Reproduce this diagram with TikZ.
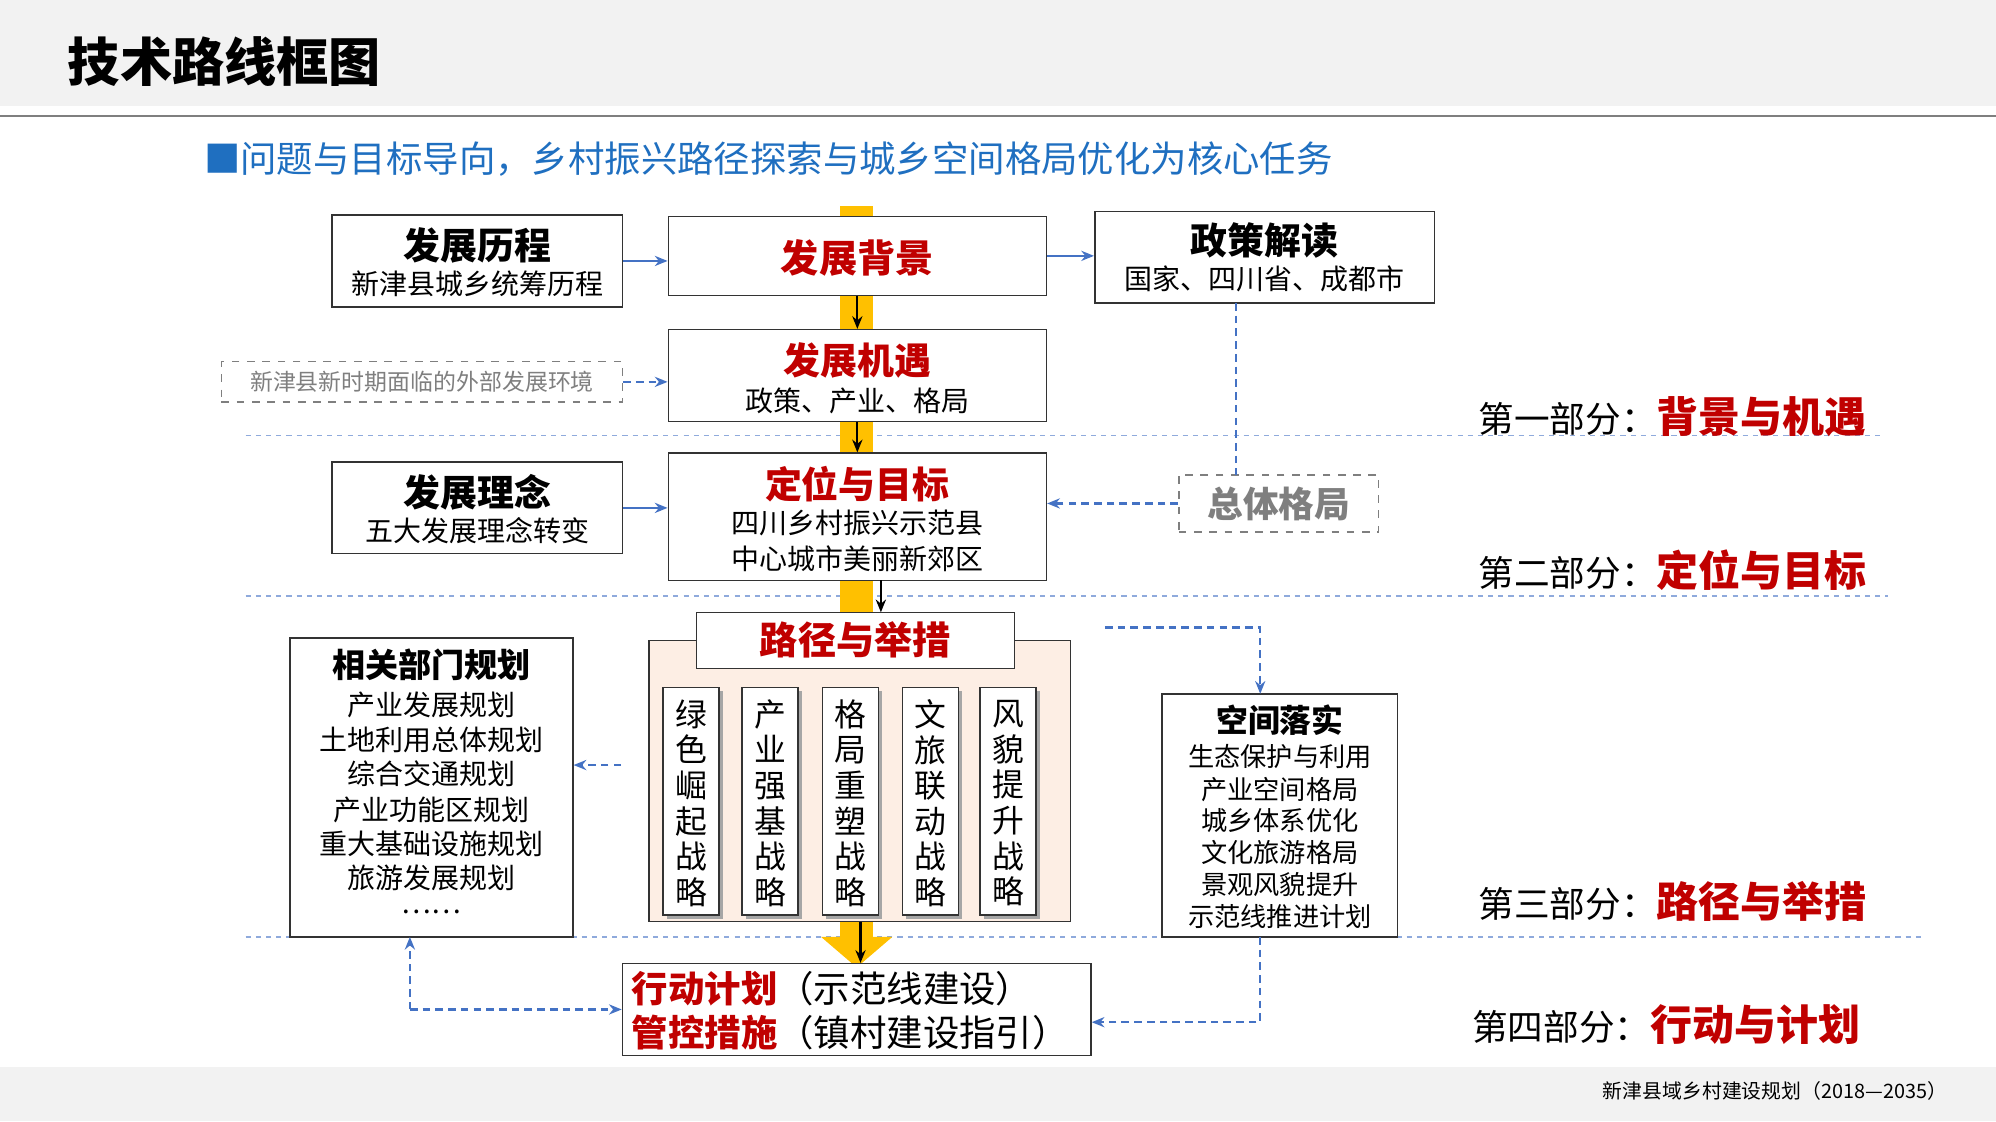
\documentclass[tikz,border=0pt]{standalone}
\usepackage{fontspec}
\setmainfont{Noto Sans CJK SC}
\usetikzlibrary{arrows.meta}
\definecolor{tblue}{HTML}{1F6FC0}
\definecolor{lblue}{HTML}{4472C4}
\definecolor{tred}{HTML}{C00000}
\definecolor{tyel}{HTML}{FFC000}
\definecolor{tgray}{HTML}{F2F2F2}
\definecolor{dgray}{HTML}{7F7F7F}
\definecolor{peach}{HTML}{FDEEE4}
\newcommand{\fsz}[1]{\fontsize{#1pt}{#1pt}\selectfont}
\newcommand{\bx}[6]{\node[#6, minimum width={#4*0.5pt}, minimum height={#5*0.5pt}] (#1) at (#2,#3) {};}
\tikzset{
 box/.style={draw=black!80, line width=0.6pt, fill=white, inner sep=0pt},
 dbox/.style={draw=dgray, dashed, line width=0.6pt, fill=white, inner sep=0pt},
 txt/.style={inner sep=0pt, align=center},
 barr/.style={-{Stealth[length=5pt,width=4pt]}, line width=0.9pt, black},
 blarr/.style={-{Stealth[length=5pt,width=4pt]}, line width=0.9pt, lblue},
 bldash/.style={line width=0.8pt, lblue, dash pattern=on 3pt off 2pt},
 sep/.style={line width=0.6pt, lblue!60, dash pattern=on 2pt off 2pt},
}
\begin{document}
\begin{tikzpicture}[x=0.5pt,y=-0.5pt]
\useasboundingbox (0,0) rectangle (1568,881);
\fill[tgray] (0,0) rectangle (1568,83);
\draw[line width=1pt, dgray] (0,91) -- (1568,91);
\fill[tgray] (0,838) rectangle (1568,881);
\node[txt, anchor=west] (title) at (53,48) {\fsz{20.5}\bfseries 技术路线框图};
\node[txt, anchor=east] (foot) at (1530,857) {\fsz{7.8}新津县域乡村建设规划（2018—2035）};
\node[txt, anchor=west, text=tblue] (sub) at (160,125) {\fsz{14.3}■问题与目标导向，乡村振兴路径探索与城乡空间格局优化为核心任务};
% separators
\draw[sep] (193,342) -- (1480,342);
\draw[sep] (193,468) -- (1483,468);
\draw[sep] (193,736) -- (1510,736);
% section labels
\node[txt, anchor=east] (s1) at (1467,327) {\fsz{14}第一部分：\textcolor{tred}{\fsz{16.5}\bfseries 背景与机遇}};
\node[txt, anchor=east] (s2) at (1467,448) {\fsz{14}第二部分：\textcolor{tred}{\fsz{16.5}\bfseries 定位与目标}};
\node[txt, anchor=east] (s3) at (1467,708) {\fsz{14}第三部分：\textcolor{tred}{\fsz{16.5}\bfseries 路径与举措}};
\node[txt, anchor=east] (s4) at (1462,805) {\fsz{14}第四部分：\textcolor{tred}{\fsz{16.5}\bfseries 行动与计划}};
% yellow bar
\fill[tyel] (660,162) rectangle (686,738);
\fill[tyel] (645,736) -- (701,736) -- (673,760) -- cycle;
% boxes
\bx{A}{375}{205}{228}{72}{box}
\node[txt] (At) at (375,193) {\fsz{14.5}\bfseries 发展历程};
\node[txt] (As) at (375,223) {\fsz{11}新津县城乡统筹历程};
\bx{B}{673.5}{201}{297}{62}{box}
\node[txt, text=tred] (Bt) at (673.5,203) {\fsz{15}\bfseries 发展背景};
\bx{C}{993.5}{202}{267}{72}{box}
\node[txt] (Ct) at (993.5,189) {\fsz{14.5}\bfseries 政策解读};
\node[txt] (Cs) at (993.5,219) {\fsz{11}国家、四川省、成都市};
\bx{D}{673.5}{295}{297}{72}{box}
\node[txt, text=tred] (Dt) at (673.5,283) {\fsz{14.5}\bfseries 发展机遇};
\node[txt] (Ds) at (673.5,315) {\fsz{11}政策、产业、格局};
\bx{E}{331.5}{300}{315}{32}{dbox}
\node[txt, text=dgray] (Et) at (331.5,300) {\fsz{9}新津县新时期面临的外部发展环境};
\bx{F}{375}{399}{228}{72}{box}
\node[txt] (Ft) at (375,387) {\fsz{14.5}\bfseries 发展理念};
\node[txt] (Fs) at (375,417) {\fsz{11}五大发展理念转变};
\bx{G}{673.5}{406}{297}{100}{box}
\node[txt, text=tred] (Gt) at (673.5,380) {\fsz{14.5}\bfseries 定位与目标};
\node[txt] (Gs1) at (673.5,411) {\fsz{11}四川乡村振兴示范县};
\node[txt] (Gs2) at (673.5,439) {\fsz{11}中心城市美丽新郊区};
\bx{H}{1004.5}{395.5}{157}{45}{dbox}
\node[txt, text=dgray] (Ht) at (1004.5,396) {\fsz{14}\bfseries 总体格局};
% strategies
\bx{I}{675.5}{613.5}{331}{221}{box, fill=peach}
\bx{Ih}{672}{503}{250}{44}{box}
\node[txt, text=tred] (It) at (672,503) {\fsz{15}\bfseries 路径与举措};
\foreach \n/\x/\t in {c1/543/绿\\色\\崛\\起\\战\\略, c2/605/产\\业\\强\\基\\战\\略, c3/668/格\\局\\重\\塑\\战\\略, c4/731/文\\旅\\联\\动\\战\\略, c5/792/风\\貌\\提\\升\\战\\略}{
 \fill[black!35] (\x-22+3,540+3) rectangle (\x+22+3,719+3);
 \bx{\n}{\x}{629.5}{44}{179}{box}
 \node[txt, font=\fontsize{12.5pt}{14pt}\selectfont] at (\x,631) {\t};
}
\bx{J}{339}{618.5}{222}{235}{box}
\node[txt] (Jt) at (339,522) {\fsz{13}\bfseries 相关部门规划};
\foreach \y/\t in {554/产业发展规划,581/土地利用总体规划,608/综合交通规划,636/产业功能区规划,663/重大基础设施规划,690/旅游发展规划,716/……}
 \node[txt] at (339,\y) {\fsz{11}\t};
\bx{K}{1005.5}{640.5}{185}{191}{box}
\node[txt] (Kt) at (1005.5,566) {\fsz{12.5}\bfseries 空间落实};
\foreach \y/\t in {594/生态保护与利用,620/产业空间格局,645/城乡体系优化,670/文化旅游格局,695/景观风貌提升,720/示范线推进计划}
 \node[txt] at (1005.5,\y) {\fsz{10.3}\t};
\bx{L}{673}{793}{368}{72}{box}
\node[txt, anchor=west] (L1) at (496,777) {\fsz{14.3}\textcolor{tred}{\bfseries 行动计划}（示范线建设）};
\node[txt, anchor=west] (L2) at (496,811) {\fsz{14.3}\textcolor{tred}{\bfseries 管控措施}（镇村建设指引）};
% arrows
\draw[barr] (B.south) -- (D.north);
\draw[barr] (D.south) -- (G.north);
\draw[barr] (692,456) -- (692,481);
\draw[barr] (676,724) -- (L.north -| 676,0);
\draw[blarr] (A.east) -- (A.east -| B.west);
\draw[blarr] (B.east) -- (B.east -| C.west);
\draw[blarr, dash pattern=on 3pt off 2pt] (E.east) -- (E.east -| D.west);
\draw[blarr] (F.east) -- (F.east -| G.west);
\draw[blarr, dash pattern=on 3pt off 2pt] (H.west) -- (H.west -| G.east);
\draw[bldash] (971,238) -- (971,373);
\draw[blarr, dash pattern=on 3pt off 2pt] (488,601) -- (J.east |- 0,601);
\draw[blarr, dash pattern=on 3pt off 2pt] (868,493) -- (990,493) -- (990,545);
\draw[blarr, dash pattern=on 3pt off 2pt] (990,736) -- (990,803) -- (L.east |- 0,803);
\coordinate (jc) at (322,793);
\draw[blarr, dash pattern=on 3pt off 2pt] (jc) -- (322,736);
\draw[blarr, dash pattern=on 3pt off 2pt] (jc) -- (jc -| L.west);
\end{tikzpicture}
\end{document}
